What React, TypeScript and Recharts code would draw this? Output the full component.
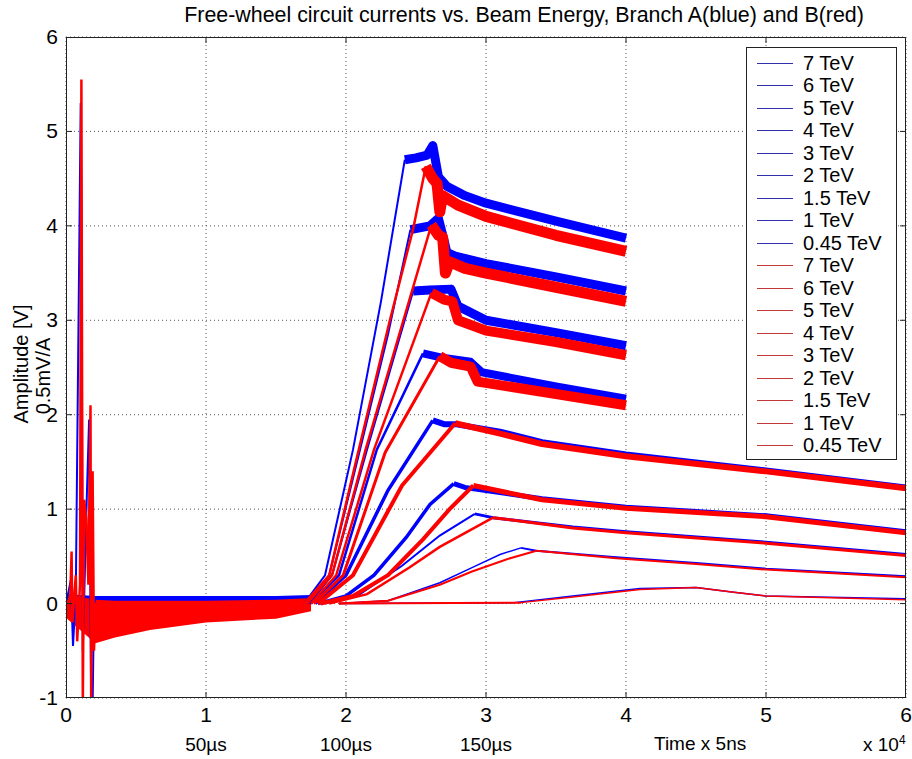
import React from "react";
import { ComposedChart, Line, Area, XAxis, YAxis, CartesianGrid } from "recharts";

type Pt = [number, number];

const BLUE = "#0000ff";
const RED = "#ff0000";
const FONT = '"Liberation Sans", Arial, sans-serif';

// x in units of 10^4 samples, y in volts
const xTicks = [0, 1, 2, 3, 4, 5, 6];
const yTicks = [-1, 0, 1, 2, 3, 4, 5, 6];
const timeLabels: Record<number, string> = { 1: "50µs", 2: "100µs", 3: "150µs" };
const energies = ["7 TeV", "6 TeV", "5 TeV", "4 TeV", "3 TeV", "2 TeV", "1.5 TeV", "1 TeV", "0.45 TeV"];

// baseline noise envelopes [x, low, high]
const blueNoise: [number, number, number][] = [
  [0.0, -0.1, 0.1], [0.21, -0.05, 0.08], [0.6, -0.04, 0.08], [1.0, -0.03, 0.08], [1.5, -0.03, 0.08], [1.75, -0.02, 0.09],
];
const redNoise: [number, number, number][] = [
  [0.0, -0.15, 0.1], [0.21, -0.42, 0.04], [0.35, -0.36, 0.03], [0.6, -0.28, 0.03], [1.0, -0.2, 0.03], [1.5, -0.16, 0.04], [1.75, -0.08, 0.06],
];

// switch-on transients
const blueSpike: Pt[] = [
  [0, 0], [0.035, 0.25], [0.05, -0.45], [0.07, 0.1], [0.105, 5.3], [0.112, 3.3], [0.12, -0.5], [0.15, 1.2],
  [0.165, 1.95], [0.18, -1.1], [0.19, -1.1], [0.2, 0.0], [0.21, 0.05],
];
const redSpike: Pt[] = [
  [0, 0], [0.03, 0.05], [0.04, 0.55], [0.045, -0.2], [0.07, 0.3], [0.08, -0.4], [0.1, 0.2], [0.11, 5.55],
  [0.115, 2.2], [0.12, -1.1], [0.13, 1.1], [0.145, 0.9], [0.16, 0.2], [0.175, 2.1], [0.18, -1.1], [0.19, 1.4],
  [0.2, -0.5], [0.21, 0],
];

// branch A (blue)
const b7Rise: Pt[] = [[1.7, 0], [1.85, 0.3], [2.05, 1.63], [2.25, 3.2], [2.42, 4.7]];
const b7Tail: Pt[] = [[2.42, 4.7], [2.5, 4.72], [2.58, 4.75], [2.62, 4.85], [2.66, 4.52], [2.72, 4.42], [2.85, 4.32], [3.0, 4.24], [3.5, 4.05], [4.0, 3.87]];
const b6Rise: Pt[] = [[1.72, 0], [1.88, 0.3], [2.1, 1.63], [2.3, 2.85], [2.46, 3.96]];
const b6Tail: Pt[] = [[2.46, 3.96], [2.6, 4.0], [2.66, 4.08], [2.7, 3.85], [2.72, 3.72], [2.78, 3.68], [3.0, 3.6], [3.5, 3.46], [4.0, 3.31]];
const b5Rise: Pt[] = [[1.74, 0], [1.9, 0.3], [2.15, 1.63], [2.48, 3.31]];
const b5Tail: Pt[] = [[2.48, 3.31], [2.6, 3.32], [2.75, 3.33], [2.8, 3.15], [3.0, 3.0], [3.5, 2.87], [4.0, 2.73]];
const b4Rise: Pt[] = [[1.75, 0], [1.95, 0.3], [2.22, 1.63], [2.55, 2.65]];
const b4Tail: Pt[] = [[2.55, 2.65], [2.7, 2.6], [2.89, 2.56], [2.97, 2.45], [3.5, 2.3], [4.0, 2.17]];
const b3Rise: Pt[] = [[1.78, 0], [2.0, 0.3], [2.3, 1.2], [2.62, 1.94]];
const b3Tail: Pt[] = [[2.62, 1.94], [2.7, 1.9], [2.78, 1.9], [3.1, 1.82], [3.4, 1.71], [4.0, 1.58], [5.0, 1.41], [6.0, 1.23]];
const b2Rise: Pt[] = [[1.8, 0], [2.0, 0.08], [2.2, 0.3], [2.43, 0.7], [2.6, 1.05], [2.77, 1.27]];
const b2Tail: Pt[] = [[2.77, 1.27], [2.85, 1.23], [3.4, 1.11], [4.0, 1.02], [5.0, 0.93], [6.0, 0.76]];
const b15Rise: Pt[] = [[1.85, 0], [2.1, 0.1], [2.4, 0.4], [2.67, 0.72], [2.92, 0.95]];
const b15Tail: Pt[] = [[2.92, 0.95], [3.05, 0.91], [3.62, 0.81], [4.0, 0.76], [5.0, 0.65], [6.0, 0.52]];
const b1Rise: Pt[] = [[1.95, 0], [2.3, 0.03], [2.67, 0.22], [2.9, 0.38], [3.1, 0.52], [3.25, 0.59]];
const b1Tail: Pt[] = [[3.25, 0.59], [3.36, 0.56], [3.93, 0.49], [4.5, 0.43], [5.0, 0.37], [6.0, 0.29]];
const b045Rise: Pt[] = [[1.95, 0], [3.2, 0.01]];
const b045Tail: Pt[] = [[3.2, 0.01], [3.62, 0.08], [4.1, 0.16], [4.5, 0.17], [4.77, 0.12], [5.0, 0.08], [6.0, 0.05]];

// branch B (red)
const r7Rise: Pt[] = [[1.7, 0], [1.88, 0.3], [2.07, 1.5], [2.31, 2.98], [2.48, 3.97], [2.57, 4.63]];
const r7Tail: Pt[] = [[2.57, 4.63], [2.62, 4.5], [2.65, 4.45], [2.67, 4.15], [2.69, 4.32], [2.8, 4.22], [3.0, 4.1], [3.5, 3.9], [4.0, 3.73]];
const r6Rise: Pt[] = [[1.72, 0], [1.9, 0.3], [2.14, 1.63], [2.4, 2.95], [2.61, 4.01]];
const r6Tail: Pt[] = [[2.61, 4.01], [2.66, 3.9], [2.69, 3.88], [2.71, 3.5], [2.74, 3.62], [2.85, 3.55], [3.0, 3.5], [3.5, 3.35], [4.0, 3.2]];
const r5Rise: Pt[] = [[1.75, 0], [1.93, 0.3], [2.2, 1.63], [2.61, 3.29]];
const r5Tail: Pt[] = [[2.61, 3.29], [2.7, 3.22], [2.76, 3.2], [2.8, 3.0], [3.0, 2.89], [3.5, 2.77], [4.0, 2.63]];
const r4Rise: Pt[] = [[1.77, 0], [1.98, 0.3], [2.28, 1.6], [2.67, 2.62]];
const r4Tail: Pt[] = [[2.67, 2.62], [2.75, 2.55], [2.89, 2.51], [2.94, 2.35], [3.5, 2.22], [4.0, 2.1]];
const r3Rise: Pt[] = [[1.8, 0], [2.05, 0.3], [2.4, 1.25], [2.78, 1.91]];
const r3Tail: Pt[] = [[2.78, 1.91], [3.1, 1.8], [3.4, 1.69], [4.0, 1.56], [5.0, 1.4], [6.0, 1.22]];
const r2Rise: Pt[] = [[1.82, 0], [2.05, 0.08], [2.3, 0.3], [2.55, 0.68], [2.74, 1.0], [2.91, 1.25]];
const r2Tail: Pt[] = [[2.91, 1.25], [3.4, 1.1], [4.0, 1.01], [5.0, 0.92], [6.0, 0.75]];
const r15Rise: Pt[] = [[1.88, 0], [2.15, 0.1], [2.45, 0.38], [2.67, 0.6], [3.05, 0.91]];
const r15Tail: Pt[] = [[3.05, 0.91], [3.62, 0.8], [4.0, 0.75], [5.0, 0.64], [6.0, 0.51]];
const r1Rise: Pt[] = [[1.95, 0], [2.3, 0.03], [2.67, 0.2], [2.9, 0.34], [3.15, 0.47], [3.36, 0.56]];
const r1Tail: Pt[] = [[3.36, 0.56], [3.93, 0.48], [4.5, 0.42], [5.0, 0.36], [6.0, 0.28]];
const r045Rise: Pt[] = [[1.95, 0], [3.25, 0.01]];
const r045Tail: Pt[] = [[3.25, 0.01], [3.62, 0.07], [4.1, 0.15], [4.5, 0.17], [4.77, 0.12], [5.0, 0.08], [6.0, 0.04]];

const blueRise = [b7Rise, b6Rise, b5Rise, b4Rise, b3Rise, b2Rise, b15Rise, b1Rise, b045Rise];
const blueTail = [b7Tail, b6Tail, b5Tail, b4Tail, b3Tail, b2Tail, b15Tail, b1Tail, b045Tail];
const redRise = [r7Rise, r6Rise, r5Rise, r4Rise, r3Rise, r2Rise, r15Rise, r1Rise, r045Rise];
const redTail = [r7Tail, r6Tail, r5Tail, r4Tail, r3Tail, r2Tail, r15Tail, r1Tail, r045Tail];

// stroke widths per energy: thin rise, noisy (thick) tail
const riseWidth = [2, 2, 2, 2.5, 3.5, 3.5, 2, 1.5, 1.5];
const tailWidthBlue = [9, 9, 9, 8, 6, 5, 3, 2, 1.5];
const tailWidthRed = [11, 11, 10, 10, 6, 5, 3, 2, 1.5];

const rows = (pts: Pt[]) => pts.map(([x, y]) => ({ x, y }));
const bands = (pts: [number, number, number][]) => pts.map(([x, lo, hi]) => ({ x, band: [lo, hi] }));

const W = 912;
const H = 759;
const PL = 66;
const PR = 906;
const PT = 37;
const PB = 698;

const XTick = (props: any) => {
  const { x, payload } = props;
  const v = payload.value;
  return (
    <g>
      {v > 0 && v < 6 && (
        <>
          <line x1={x} x2={x} y1={PB} y2={PB - 6} stroke="#222" />
          <line x1={x} x2={x} y1={PT} y2={PT + 6} stroke="#222" />
        </>
      )}
      <text x={x} y={PB + 24} textAnchor="middle" fontSize={21} fontFamily={FONT} fill="#000">
        {v}
      </text>
      {timeLabels[v] && (
        <text x={x} y={PB + 53} textAnchor="middle" fontSize={19} fontFamily={FONT} fill="#000">
          {timeLabels[v]}
        </text>
      )}
    </g>
  );
};

const YTick = (props: any) => {
  const { y, payload } = props;
  const v = payload.value;
  return (
    <g>
      {v > -1 && v < 6 && (
        <>
          <line x1={PL} x2={PL + 6} y1={y} y2={y} stroke="#222" />
          <line x1={PR} x2={PR - 6} y1={y} y2={y} stroke="#222" />
        </>
      )}
      <text x={58} y={y + 7} textAnchor="end" fontSize={21} fontFamily={FONT} fill="#000">
        {v}
      </text>
    </g>
  );
};

export default function App() {
  return (
    <div style={{ position: "absolute", left: 0, top: 0, width: W, height: H, background: "#fff", fontFamily: FONT }}>
      <ComposedChart width={W} height={H} margin={{ top: PT, right: W - PR, left: 6, bottom: 0 }}>
        <CartesianGrid strokeDasharray="1 3" stroke="#555" />
        <XAxis
          type="number"
          dataKey="x"
          domain={[0, 6]}
          ticks={xTicks}
          allowDataOverflow
          height={H - PB}
          axisLine={false}
          tickLine={false}
          tick={<XTick />}
          interval={0}
        />
        <YAxis
          type="number"
          domain={[-1, 6]}
          ticks={yTicks}
          allowDataOverflow
          width={PL - 6}
          axisLine={false}
          tickLine={false}
          tick={<YTick />}
          interval={0}
        />
        <Area data={bands(blueNoise)} dataKey="band" type="linear" stroke="none" fill={BLUE} fillOpacity={1} isAnimationActive={false} />
        <Area data={bands(redNoise)} dataKey="band" type="linear" stroke="none" fill={RED} fillOpacity={1} isAnimationActive={false} />
        <Line data={rows(blueSpike)} dataKey="y" type="linear" stroke={BLUE} strokeWidth={2} dot={false} isAnimationActive={false} />
        {blueRise.map((pts, i) => (
          <Line key={"br" + i} data={rows(pts)} dataKey="y" type="linear" stroke={BLUE} strokeWidth={riseWidth[i]} dot={false} isAnimationActive={false} />
        ))}
        {blueTail.map((pts, i) => (
          <Line key={"bt" + i} data={rows(pts)} dataKey="y" type="linear" stroke={BLUE} strokeWidth={tailWidthBlue[i]} strokeLinejoin="round" dot={false} isAnimationActive={false} />
        ))}
        <Line data={rows(redSpike)} dataKey="y" type="linear" stroke={RED} strokeWidth={2.5} dot={false} isAnimationActive={false} />
        {redRise.map((pts, i) => (
          <Line key={"rr" + i} data={rows(pts)} dataKey="y" type="linear" stroke={RED} strokeWidth={riseWidth[i] + 0.5} dot={false} isAnimationActive={false} />
        ))}
        {redTail.map((pts, i) => (
          <Line key={"rt" + i} data={rows(pts)} dataKey="y" type="linear" stroke={RED} strokeWidth={tailWidthRed[i]} strokeLinejoin="round" dot={false} isAnimationActive={false} />
        ))}
      </ComposedChart>

      {/* axes box */}
      <div style={{ position: "absolute", left: PL, top: PT, width: PR - PL, height: PB - PT, border: "1px solid #222", boxSizing: "border-box", pointerEvents: "none" }} />

      {/* title */}
      <div style={{ position: "absolute", left: 0, width: 1048, top: 3, textAlign: "center", fontSize: 21.4, color: "#000", whiteSpace: "nowrap" }}>
        Free-wheel circuit currents vs. Beam Energy, Branch A(blue) and B(red)
      </div>

      {/* y label */}
      <div style={{ position: "absolute", left: 21, top: 364, transform: "translate(-50%, -50%) rotate(-90deg)", fontSize: 20, whiteSpace: "nowrap" }}>
        Amplitude [V]
      </div>
      <div style={{ position: "absolute", left: 43, top: 376, transform: "translate(-50%, -50%) rotate(-90deg)", fontSize: 20, whiteSpace: "nowrap" }}>
        0.5mV/A
      </div>

      {/* x annotations */}
      <div style={{ position: "absolute", left: 654, top: 733, fontSize: 19, whiteSpace: "nowrap" }}>Time x 5ns</div>
      <div style={{ position: "absolute", left: 863, top: 733, fontSize: 19, whiteSpace: "nowrap" }}>
        x 10<sup style={{ fontSize: 12 }}>4</sup>
      </div>

      {/* legend */}
      <div style={{ position: "absolute", left: 746, top: 47, width: 151, height: 413, background: "#fff", border: "1px solid #222", boxSizing: "border-box" }}>
        {[...energies.map((e) => ({ e, c: "#3030a8" })), ...energies.map((e) => ({ e, c: "#c03838" }))].map((it, i) => (
          <div key={i} style={{ position: "absolute", left: 0, top: 4 + i * 22.5, height: 22, display: "flex", alignItems: "center" }}>
            <div style={{ marginLeft: 10, width: 36, height: 0, borderTop: `1px solid ${it.c}` }} />
            <div style={{ marginLeft: 10, fontSize: 20, whiteSpace: "nowrap" }}>{it.e}</div>
          </div>
        ))}
      </div>
    </div>
  );
}
